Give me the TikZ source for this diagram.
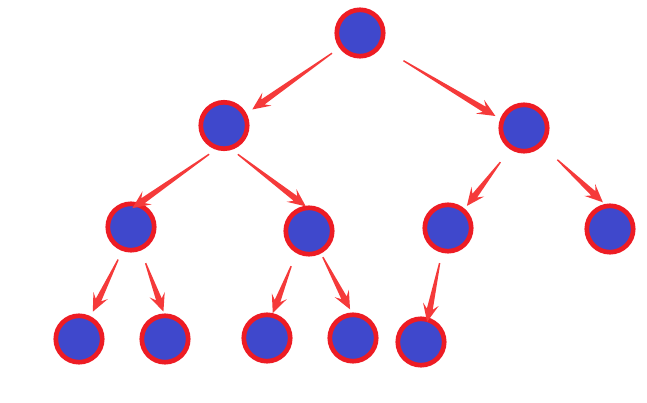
\documentclass[tikz,border=0pt]{standalone}
\usetikzlibrary{calc}

\definecolor{ringred}{RGB}{237,28,36}
\definecolor{dotblue}{RGB}{63,72,204}
\definecolor{arrowred}{RGB}{245,58,58}

\tikzset{
  dot/.style={circle, inner sep=0pt, minimum size=46.4pt, line width=4.7pt,
    draw=ringred, fill=dotblue}
}

% tapered arrow: #1 from, #2 to, #3 gap at start, #4 gap at tip
\newcommand\branch[4]{%
  \coordinate (bs) at ($(#1)!#3!(#2)$);
  \coordinate (bt) at ($(#2)!#4!(#1)$);
  \coordinate (bh) at ($(bt)!13pt!(bs)$);
  \coordinate (bw) at ($(bt)!18pt!(bs)$);
  \fill[arrowred] ($(bs)!0.7pt!90:(bt)$) -- ($(bh)!3pt!90:(bt)$)
    -- ($(bw)!8pt!90:(bt)$) -- (bt) -- ($(bw)!8pt!-90:(bt)$)
    -- ($(bh)!3pt!-90:(bt)$) -- ($(bs)!0.7pt!-90:(bt)$) -- cycle;
}

\begin{document}
\begin{tikzpicture}[x=1pt,y=-1pt]
    \useasboundingbox (0,0) rectangle (647,403);

    % Nodes of the tree
    \node[dot] (root) at (360,33) {};
    \node[dot] (n1) at (224,125.5) {};
    \node[dot] (n2) at (524,128) {};
    \node[dot] (n3) at (131,227) {};
    \node[dot] (n4) at (309,231) {};
    \node[dot] (n5) at (448,228) {};
    \node[dot] (n6) at (610,229) {};
    \node[dot] (n7) at (79,339) {};
    \node[dot] (n8) at (165,339) {};
    \node[dot] (n9) at (267,338) {};
    \node[dot] (n10) at (353,338) {};
    \node[dot] (n11) at (421,342) {};

    % Arrows
    \branch{root.216}{n1.28}{9pt}{7pt}
    \branch{root.326}{n2.159}{26pt}{5.5pt}
    \branch{n1.251}{n3.70}{8pt}{-9pt}
    \branch{n1.288}{n4.99}{7.5pt}{-1pt}
    \branch{n2.237}{n5.49}{16pt}{3.5pt}
    \branch{n2.316}{n6.102}{20.5pt}{2.5pt}
    \branch{n3.250}{n7.63}{9.5pt}{5pt}
    \branch{n3.293}{n8.92}{13.5pt}{2pt}
    \branch{n4.240}{n9.77}{14pt}{0pt}
    \branch{n4.298}{n10.93}{4pt}{3.5pt}
    \branch{n5.256}{n11.74}{10.5pt}{-4.5pt}

\end{tikzpicture}
\end{document}
